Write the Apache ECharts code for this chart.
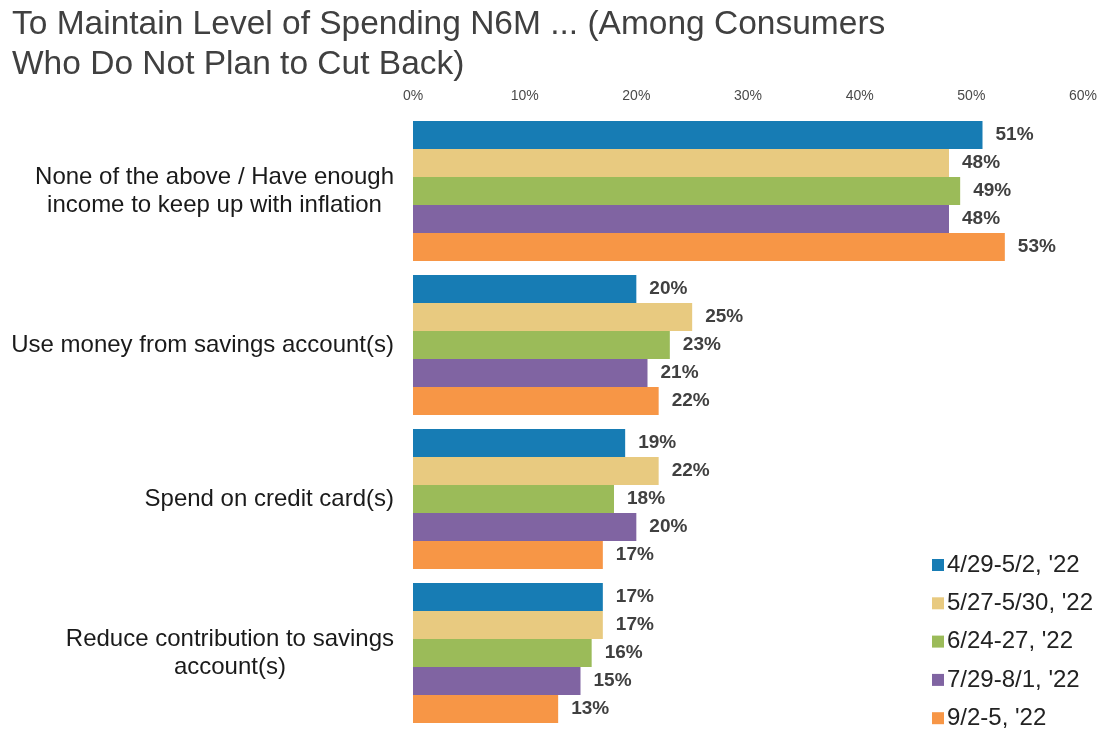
<!DOCTYPE html>
<html>
<head>
<meta charset="utf-8">
<script src="https://cdn.jsdelivr.net/npm/echarts@6/dist/echarts.min.js"></script>
<style>
  html, body { margin: 0; padding: 0; background: #ffffff; }
  #chart { width: 1101px; height: 730px; }
</style>
</head>
<body>
<div id="chart"></div>
<script>
// Survey answers (top to bottom)
const categories = [
  'None of the above / Have enough\nincome to keep up with inflation',
  'Use money from savings account(s)',
  'Spend on credit card(s)',
  'Reduce contribution to savings\naccount(s)'
];

// Survey waves
const waves = ["4/29-5/2, '22", "5/27-5/30, '22", "6/24-27, '22", "7/29-8/1, '22", "9/2-5, '22"];

// Share of respondents (%) per wave, in category order
const wave1 = [51, 20, 19, 17];
const wave2 = [48, 25, 22, 17];
const wave3 = [49, 23, 18, 16];
const wave4 = [48, 21, 20, 15];
const wave5 = [53, 22, 17, 13];

const waveValues = [wave1, wave2, wave3, wave4, wave5];
const waveColors = ['#177cb4', '#e8ca80', '#9bbb59', '#8064a2', '#f79646'];

const FONT = "'Liberation Sans', Arial, sans-serif";

const chart = echarts.init(document.getElementById('chart'), null, { renderer: 'canvas' });

const series = waves.map((name, i) => ({
  name: name,
  type: 'bar',
  data: waveValues[i],
  barWidth: 28,
  barGap: '0%',
  itemStyle: { color: waveColors[i] },
  label: {
    show: true,
    position: 'right',
    distance: 13,
    formatter: '{c}%',
    fontFamily: FONT,
    fontWeight: 'bold',
    fontSize: 19,
    color: '#404040'
  }
}));

chart.setOption({
  animation: false,
  backgroundColor: '#ffffff',
  title: {
    text: 'To Maintain Level of Spending N6M ... (Among Consumers\nWho Do Not Plan to Cut Back)',
    left: 7,
    top: 0,
    textStyle: {
      fontFamily: FONT,
      fontWeight: 'normal',
      fontSize: 33.5,
      lineHeight: 40,
      color: '#404040'
    }
  },
  legend: {
    orient: 'vertical',
    left: 932,
    top: 553,
    height: 200,
    padding: 0,
    itemWidth: 12,
    itemHeight: 12,
    itemGap: 14.3,
    icon: 'rect',
    data: waves,
    textStyle: {
      fontFamily: FONT,
      fontSize: 24,
      color: '#222222',
      padding: [0, 0, 0, -2]
    }
  },
  grid: {
    left: 413,
    right: 18,
    top: 114,
    bottom: -7,
    containLabel: false
  },
  xAxis: {
    type: 'value',
    position: 'top',
    min: 0,
    max: 60,
    interval: 10,
    axisLine: { show: false },
    axisTick: { show: false },
    splitLine: { show: false },
    axisLabel: {
      margin: 11,
      formatter: '{value}%',
      fontFamily: FONT,
      fontSize: 14,
      color: '#4a4a4a'
    }
  },
  yAxis: {
    type: 'category',
    inverse: true,
    data: categories,
    axisLine: { show: false },
    axisTick: { show: false },
    axisLabel: {
      margin: 19,
      formatter: function (value) {
        return value.split('\n').map(line => '{c|' + line + '}').join('\n');
      },
      rich: {
        c: {
          align: 'center',
          fontFamily: FONT,
          fontSize: 24,
          lineHeight: 28,
          color: '#1a1a1a'
        }
      }
    }
  },
  series: series
});
</script>
</body>
</html>
